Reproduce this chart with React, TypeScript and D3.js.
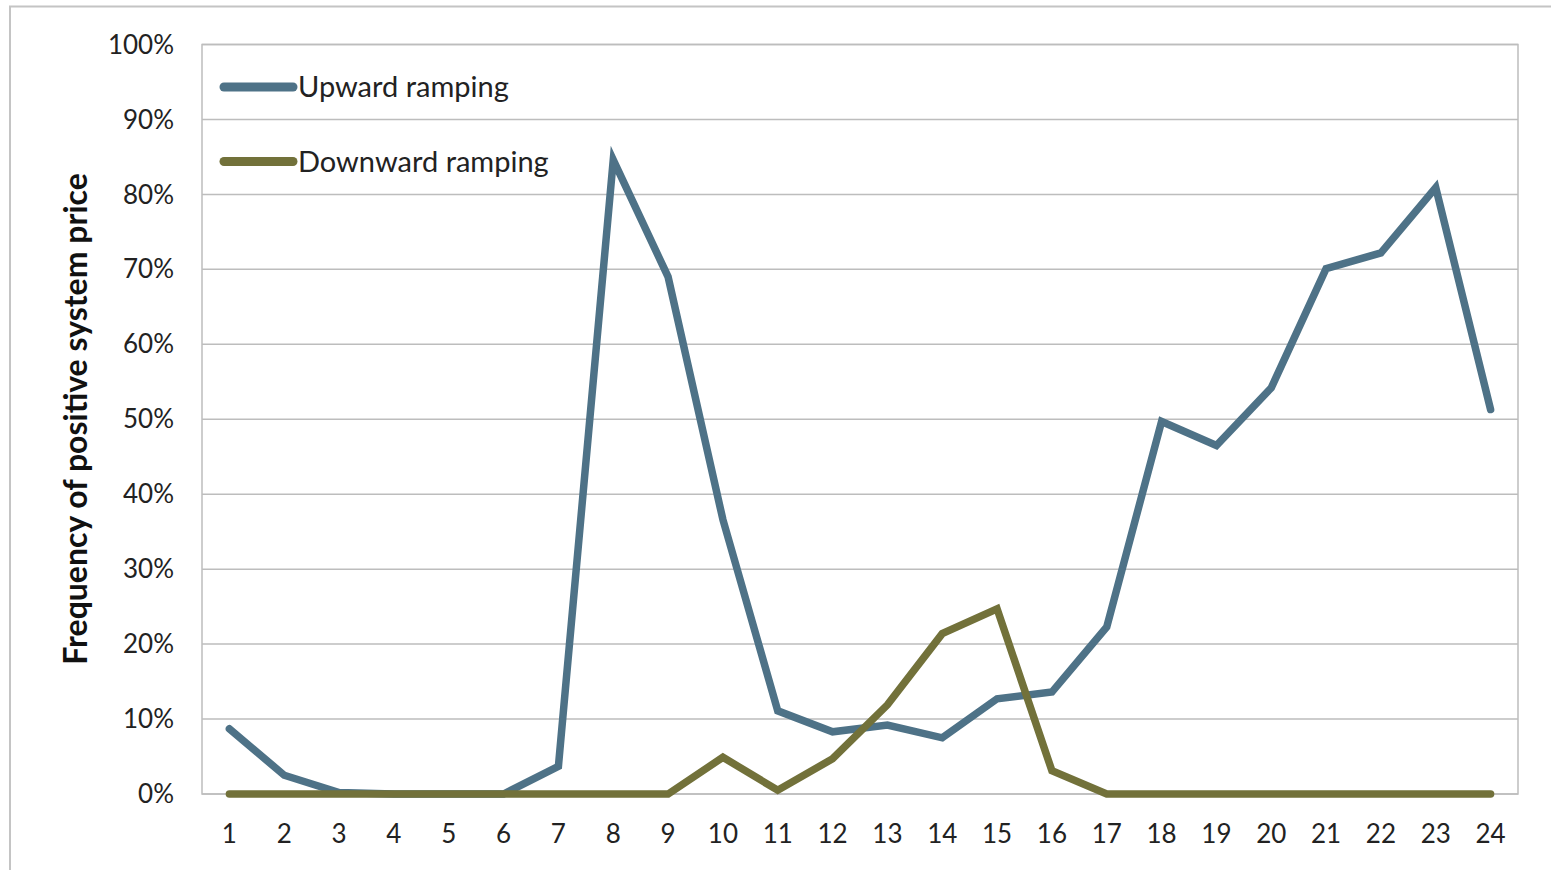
import React from "react";
import * as d3 from "d3";

const hours = d3.range(1, 25);
const upward = [8.7, 2.5, 0.2, 0, 0, 0, 3.7, 84.6, 69.0, 36.6, 11.1, 8.3, 9.2, 7.5, 12.7, 13.6, 22.3, 49.7, 46.5, 54.2, 70.1, 72.2, 80.9, 51.3];
const downward = [0, 0, 0, 0, 0, 0, 0, 0, 0, 4.9, 0.5, 4.7, 11.9, 21.4, 24.7, 3.1, 0, 0, 0, 0, 0, 0, 0, 0];
const yTicks = [0, 10, 20, 30, 40, 50, 60, 70, 80, 90, 100];
const seriesNames = ["Upward ramping", "Downward ramping"];
const seriesColors = ["#4e7287", "#72713a"];

const W = 1551, H = 870;
const L = 202, R = 1518, T = 44.5, B = 794;
const FONT = "Lato, 'Open Sans', sans-serif";

export default function App() {
  const x = d3.scaleBand<number>().domain(hours).range([L, R]);
  const y = d3.scaleLinear().domain([0, 100]).range([B, T]);
  const cx = (h: number) => (x(h) as number) + x.bandwidth() / 2;
  const line = d3.line<number>().x((_, i) => cx(hours[i])).y((v) => y(v));
  const series = [upward, downward];
  return (
    <svg width={W} height={H} style={{ position: "absolute", left: 0, top: 0, background: "#fff" }}>
      <rect x={10} y={6.5} width={W + 20} height={H + 20} fill="#fff" stroke="#c4c4c4" strokeWidth={2} />
      {yTicks.map((t) => (
        <line key={t} x1={L} x2={R} y1={y(t)} y2={y(t)} stroke="#bdbdbd" strokeWidth={1.5} />
      ))}
      <rect x={L} y={T} width={R - L} height={B - T} fill="none" stroke="#bdbdbd" strokeWidth={1.5} />
      {yTicks.map((t) => (
        <text key={t} x={174} y={y(t)} dy="0.35em" textAnchor="end" fontFamily={FONT} fontSize={26} fill="#222">
          {t + "%"}
        </text>
      ))}
      {hours.map((h) => (
        <text key={h} x={cx(h)} y={834} dy="0.35em" textAnchor="middle" fontFamily={FONT} fontSize={26} fill="#222">
          {h}
        </text>
      ))}
      <text
        transform={`translate(76,419) rotate(-90)`}
        textAnchor="middle"
        dy="0.35em"
        fontFamily={FONT}
        fontWeight="bold"
        fontSize={32}
        fill="#111"
      >
        Frequency of positive system price
      </text>
      {series.map((s, i) => (
        <path key={i} d={line(s) || ""} fill="none" stroke={seriesColors[i]} strokeWidth={7.5} strokeLinejoin="miter" strokeLinecap="round" />
      ))}
      {seriesNames.map((n, i) => (
        <g key={n}>
          <line x1={224} x2={293} y1={87 + i * 74.5} y2={87 + i * 74.5} stroke={seriesColors[i]} strokeWidth={9} strokeLinecap="round" />
          <text x={298} y={87 + i * 74.5} dy="0.35em" fontFamily={FONT} fontSize={29} fill="#222">
            {n}
          </text>
        </g>
      ))}
    </svg>
  );
}
